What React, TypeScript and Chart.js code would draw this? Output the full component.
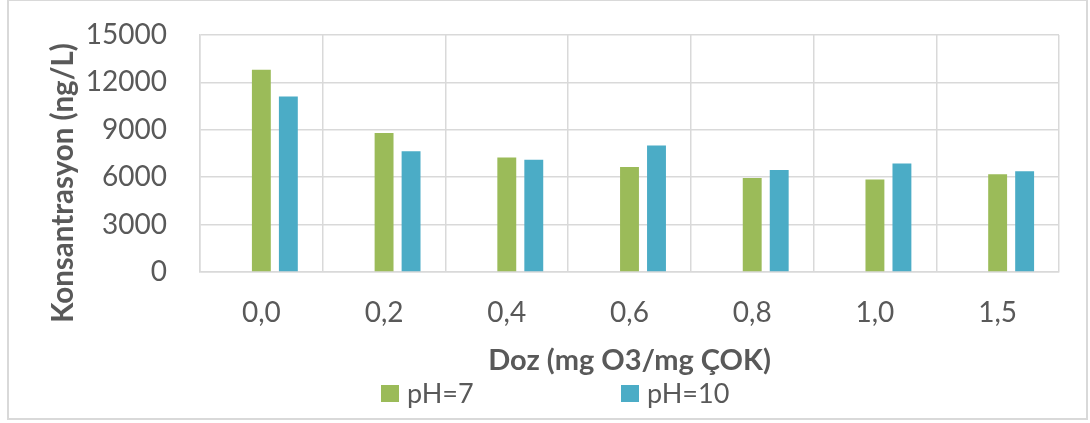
import React, { useEffect, useRef } from "react";
import { Chart, registerables } from "chart.js";

Chart.register(...registerables);

const categories = ["0,0", "0,2", "0,4", "0,6", "0,8", "1,0", "1,5"];
const seriesNames = ["pH=7", "pH=10"];
const ph7Values = [12800, 8800, 7250, 6650, 5950, 5850, 6180];
const ph10Values = [11100, 7650, 7100, 8000, 6450, 6870, 6370];
const emptySeries = [0, 0, 0, 0, 0, 0, 0];
const yTicks = [0, 3000, 6000, 9000, 12000, 15000];
const yTitle = "Konsantrasyon (ng/L)";
const xTitle = "Doz (mg O3/mg ÇOK)";

const GREEN = "#9BBB59";
const BLUE = "#4BACC6";
const TEXT = "#595959";
const GRID = "#D9D9D9";
const FONT = "Lato, 'Open Sans', sans-serif";

const titlesPlugin = {
  id: "titlesAndLegend",
  afterDraw(chart: any) {
    const ctx = chart.ctx;
    const area = chart.chartArea;
    ctx.save();
    ctx.fillStyle = TEXT;
    // y title
    ctx.font = `bold 29.5px ${FONT}`;
    ctx.textAlign = "center";
    ctx.textBaseline = "middle";
    ctx.translate(63, 183);
    ctx.rotate(-Math.PI / 2);
    ctx.fillText(yTitle, 0, 0);
    ctx.setTransform(1, 0, 0, 1, 0, 0);
    // x title
    ctx.font = `bold 29px ${FONT}`;
    ctx.fillText(xTitle, (area.left + area.right) / 2, 361);
    // legend
    const colors = [GREEN, BLUE];
    const xs = [381, 621];
    ctx.font = `27px ${FONT}`;
    ctx.textAlign = "left";
    seriesNames.forEach((name, i) => {
      ctx.fillStyle = colors[i];
      ctx.fillRect(xs[i], 385, 18, 17);
      ctx.fillStyle = TEXT;
      ctx.fillText(name, xs[i] + 26, 394);
    });
    ctx.restore();
  },
};

export default function App() {
  const ref = useRef<HTMLCanvasElement>(null);
  useEffect(() => {
    if (!ref.current) return;
    const chart = new Chart(ref.current, {
      type: "bar",
      data: {
        labels: categories,
        datasets: [
          { label: "", data: emptySeries, backgroundColor: "rgba(0,0,0,0)" },
          { label: seriesNames[0], data: ph7Values, backgroundColor: GREEN },
          { label: seriesNames[1], data: ph10Values, backgroundColor: BLUE },
        ],
      },
      options: {
        responsive: false,
        animation: false,
        categoryPercentage: 0.66,
        barPercentage: 0.7,
        layout: { padding: { left: 0, top: 35, right: 31, bottom: 0 } },
        plugins: {
          legend: { display: false },
          tooltip: { enabled: false },
          title: { display: false },
        },
        scales: {
          x: {
            grid: { color: GRID, lineWidth: 1.5, offset: true, drawTicks: false },
            border: { color: GRID, width: 1.5 },
            ticks: { color: TEXT, font: { family: FONT, size: 28 }, padding: 24 },
            afterFit(scale: any) {
              scale.height = 423 - 272;
              scale.paddingLeft = 0;
              scale.paddingRight = 0;
            },
          },
          y: {
            min: 0,
            max: 15000,
            afterBuildTicks(scale: any) {
              scale.ticks = yTicks.map((v) => ({ value: v }));
            },
            grid: { color: GRID, lineWidth: 1.5, drawTicks: false },
            border: { color: GRID, width: 1.5 },
            ticks: {
              color: TEXT,
              font: { family: FONT, size: 28 },
              padding: 33,
              callback: (v: any) => String(v),
            },
            afterFit(scale: any) {
              scale.width = 200;
              scale.paddingTop = 0;
              scale.paddingBottom = 0;
            },
          },
        },
      },
      plugins: [titlesPlugin],
    });
    return () => chart.destroy();
  }, []);
  return (
    <div style={{ position: "absolute", left: 0, top: 0, width: 1090, height: 423, background: "#fff" }}>
      <canvas ref={ref} width={1090} height={423} style={{ position: "absolute", left: 0, top: 0 }} />
      <div
        style={{
          position: "absolute",
          left: 7,
          top: -1,
          width: 1081,
          height: 421,
          border: "2px solid #D9D9D9",
          boxSizing: "border-box",
          pointerEvents: "none",
        }}
      />
    </div>
  );
}
